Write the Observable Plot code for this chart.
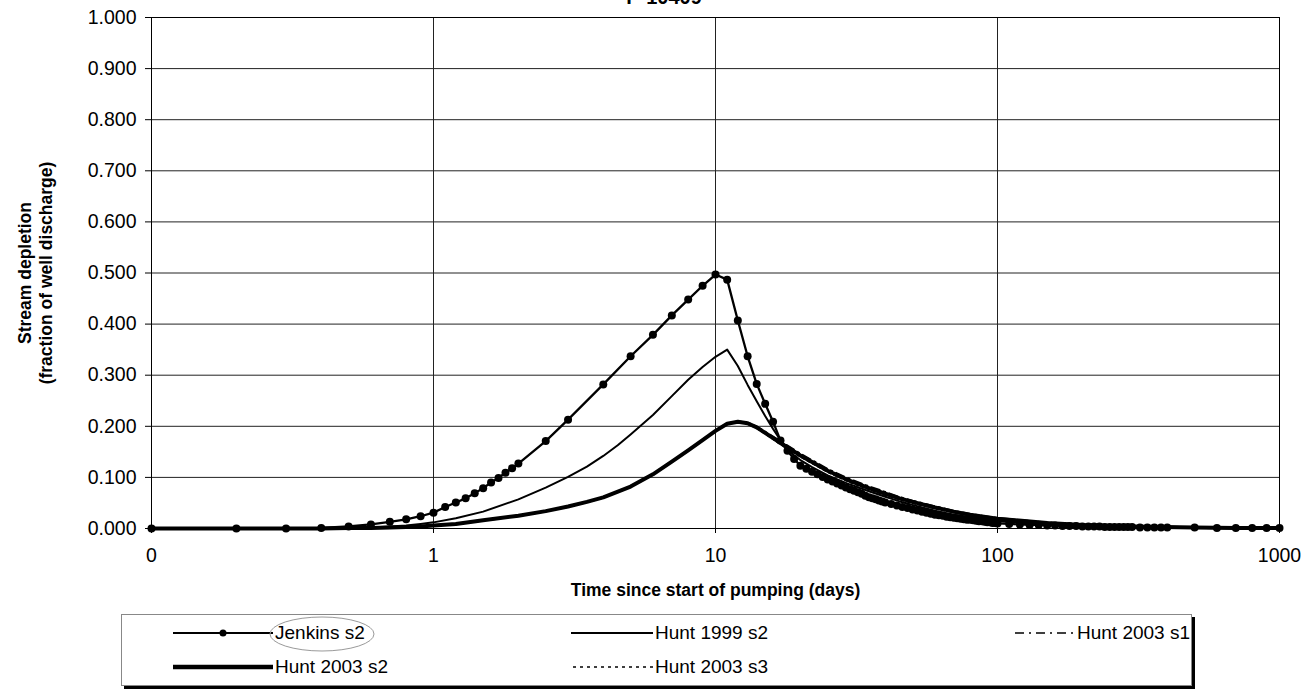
<!DOCTYPE html>
<html>
<head>
<meta charset="utf-8">
<script src="https://cdn.jsdelivr.net/npm/d3@7"></script>
<script src="https://cdn.jsdelivr.net/npm/@observablehq/plot@0.6"></script>
<style>
  body { margin: 0; background: #fff; font-family: "Liberation Sans", Arial, sans-serif; }
  #wrap { position: relative; width: 1308px; height: 689px; overflow: hidden; background: #fff; }
  #title { position: absolute; left: 0; width: 1328px; top: -13px; line-height: 20px; text-align: center; font-weight: bold; font-size: 20px; color: #000; }
  #chart { position: absolute; left: 0; top: 0; }
  #legend { position: absolute; left: 121px; top: 614px; width: 1069px; height: 70px; border: 1px solid #888; box-shadow: 3px 3px 0 #000; background: #fff; }
  .item { position: absolute; height: 30px; display: flex; align-items: center; font-size: 19px; color: #000; white-space: nowrap; }
  .item svg { display: block; margin-right: 2px; }
</style>
</head>
<body>
<div id="wrap">
  <div id="chart"></div>
  <div id="title">P-10409</div>
  <div id="legend"></div>
</div>
<script>
// ---------- data ----------
const titleText = "P-10409";
const xTitle = "Time since start of pumping (days)";
const yTitle = "Stream depletion\n(fraction of well discharge)";
const xTicks = [0.1, 1, 10, 100, 1000];
const xTickLabels = ["0", "1", "10", "100", "1000"];
const yTicks = [0, 0.1, 0.2, 0.3, 0.4, 0.5, 0.6, 0.7, 0.8, 0.9, 1.0];
const seriesNames = ["Jenkins s2", "Hunt 1999 s2", "Hunt 2003 s1", "Hunt 2003 s2", "Hunt 2003 s3"];

const jenkinsT = [0.1,0.2,0.3,0.4,0.5,0.6,0.7,0.8,0.9,1.0,1.1,1.2,1.3,1.4,1.5,1.6,1.7,1.8,1.9,2.0,2.5,
  3,4,5,6,7,8,9,10,11,12,13,14,15,16,17,18,19,20,21,22,23,24,25,26,27,28,29,30,31,32,33,34,35,36,37,38,39,40,
  42,44,46,48,50,52,54,56,58,60,62,64,66,68,70,72,74,76,78,80,82,84,86,88,90,92,94,96,98,100,
  110,120,130,140,150,160,170,180,190,200,210,220,230,240,250,260,270,280,290,300,320,340,360,380,
  400,500,600,700,800,900,1000];
const jenkinsV = [0.000,0.000,0.000,0.001,0.004,0.008,0.013,0.018,0.024,0.031,0.042,0.051,0.059,0.069,0.079,0.090,0.099,0.109,0.118,0.127,0.171,
  0.213,0.282,0.337,0.379,0.417,0.448,0.475,0.497,0.487,0.407,0.337,0.283,0.244,0.209,0.172,0.152,0.136,0.123,0.117,0.111,0.106,0.101,0.096,0.092,0.088,0.084,0.080,0.077,0.074,0.071,0.068,0.064,0.061,0.059,0.057,0.055,0.053,0.051,
  0.048,0.045,0.042,0.040,0.037,0.035,0.033,0.031,0.029,0.027,0.026,0.025,0.023,0.022,0.021,0.020,0.019,0.018,0.017,0.017,0.016,0.015,0.014,0.014,0.013,0.012,0.012,0.011,0.011,0.010,
  0.009,0.008,0.007,0.007,0.006,0.006,0.005,0.005,0.005,0.004,0.004,0.004,0.004,0.003,0.003,0.003,0.003,0.003,0.003,0.003,0.002,0.002,0.002,0.002,
  0.002,0.002,0.001,0.001,0.001,0.001,0.001];

const hunt99T = [0.1,0.2,0.3,0.4,0.5,0.6,0.7,0.8,0.9,1,1.2,1.5,2,2.5,3,3.5,4,4.5,5,6,7,8,9,10,11,12,13,14,15,16,17,18,19,20,22,25,30,35,40,45,50,60,70,80,100,150,200,300,500,700,1000];
const hunt99V = [0,0,0,0.001,0.001,0.002,0.004,0.006,0.009,0.012,0.020,0.033,0.057,0.080,0.101,0.121,0.142,0.163,0.184,0.222,0.259,0.291,0.316,0.336,0.350,0.318,0.281,0.249,0.220,0.195,0.173,0.156,0.143,0.134,0.120,0.104,0.086,0.073,0.062,0.053,0.046,0.035,0.027,0.022,0.014,0.008,0.005,0.003,0.002,0.001,0.001];

const hunt03T = [0.1,0.2,0.3,0.4,0.5,0.6,0.7,0.8,0.9,1,1.2,1.5,2,2.5,3,3.5,4,5,6,7,8,9,10,11,12,13,14,15,17.5,20,25,30,35,40,45,50,60,70,80,100,150,200,300,500,700,1000];
const hunt03s1V = [0,0,0,0,0.001,0.001,0.002,0.003,0.004,0.006,0.009,0.016,0.025,0.034,0.043,0.052,0.061,0.083,0.107,0.132,0.154,0.174,0.192,0.206,0.210,0.208,0.200,0.190,0.167,0.147,0.117,0.097,0.083,0.072,0.062,0.055,0.044,0.035,0.029,0.021,0.012,0.008,0.005,0.003,0.002,0.001];
const hunt03s2V = [0,0,0,0,0.001,0.001,0.002,0.003,0.004,0.006,0.009,0.016,0.025,0.034,0.043,0.052,0.061,0.082,0.106,0.131,0.153,0.173,0.191,0.205,0.209,0.206,0.198,0.187,0.163,0.143,0.113,0.093,0.079,0.068,0.059,0.052,0.041,0.033,0.027,0.019,0.011,0.007,0.004,0.002,0.001,0.001];
const hunt03s3V = [0,0,0,0,0.001,0.001,0.002,0.003,0.004,0.006,0.009,0.015,0.024,0.033,0.042,0.051,0.060,0.081,0.105,0.130,0.152,0.172,0.190,0.204,0.208,0.204,0.196,0.185,0.160,0.140,0.110,0.090,0.076,0.065,0.056,0.049,0.039,0.031,0.025,0.018,0.010,0.006,0.004,0.002,0.001,0.001];

// ---------- build tables ----------
const rows = (T, V) => T.map((t, i) => ({t, v: V[i]}));
const jRows = rows(jenkinsT, jenkinsV);
const h99Rows = rows(hunt99T, hunt99V);
const h03s1Rows = rows(hunt03T, hunt03s1V);
const h03s2Rows = rows(hunt03T, hunt03s2V);
const h03s3Rows = rows(hunt03T, hunt03s3V);

const chart = Plot.plot({
  width: 1308,
  height: 610,
  marginLeft: 151,
  marginRight: 29,
  marginTop: 17,
  marginBottom: 82,
  style: { fontFamily: "'Liberation Sans', Arial, sans-serif", fontSize: "19.5px", color: "#000", background: "transparent" },
  x: { type: "log", domain: [0.1, 1000] },
  y: { domain: [0, 1] },
  marks: [
    Plot.gridY(yTicks, { stroke: "#222", strokeOpacity: 1, strokeWidth: 1 }),
    Plot.gridX(xTicks, { stroke: "#222", strokeOpacity: 1, strokeWidth: 1 }),
    Plot.frame({ stroke: "#000", strokeWidth: 1 }),
    Plot.line(h03s3Rows, { x: "t", y: "v", stroke: "#000", strokeWidth: 1.5, strokeDasharray: "3,3" }),
    Plot.line(h03s1Rows, { x: "t", y: "v", stroke: "#000", strokeWidth: 1.5, strokeDasharray: "9,4,2,4" }),
    Plot.line(h03s2Rows, { x: "t", y: "v", stroke: "#000", strokeWidth: 4 }),
    Plot.line(h99Rows, { x: "t", y: "v", stroke: "#000", strokeWidth: 2 }),
    Plot.line(jRows, { x: "t", y: "v", stroke: "#000", strokeWidth: 2.3 }),
    Plot.dot(jRows, { x: "t", y: "v", r: 4, fill: "#000", stroke: "none" }),
    Plot.axisY({ ticks: yTicks, tickFormat: d3.format(".3f"), tickSize: 6, tickPadding: 9, label: null }),
    Plot.axisX({ ticks: xTicks, tickFormat: d => xTickLabels[xTicks.indexOf(d)], tickSize: 5, tickPadding: 15, label: null }),
    Plot.text([xTitle], { frameAnchor: "bottom", dy: 62, text: d => d, fontWeight: "bold", fontSize: 17.5, fill: "#000", lineAnchor: "middle" }),
    Plot.text([yTitle], { frameAnchor: "left", dx: -117, text: d => d, rotate: -90, fontWeight: "bold", fontSize: 17.5, fill: "#000", lineAnchor: "middle", textAnchor: "middle", lineHeight: 1.2 })
  ]
});
document.getElementById("chart").appendChild(chart);
document.getElementById("title").textContent = titleText;

// ---------- legend ----------
const swatch = (kind, w) => {
  const y = 15;
  if (kind === 0) return `<svg width="${w}" height="30"><line x1="0" y1="${y}" x2="${w}" y2="${y}" stroke="#000" stroke-width="2"/><circle cx="${w/2}" cy="${y}" r="3.5" fill="#000"/></svg>`;
  if (kind === 1) return `<svg width="${w}" height="30"><line x1="0" y1="${y}" x2="${w}" y2="${y}" stroke="#000" stroke-width="2"/></svg>`;
  if (kind === 2) return `<svg width="${w}" height="30"><line x1="2" y1="${y}" x2="${w}" y2="${y}" stroke="#000" stroke-width="1.5" stroke-dasharray="9,5,2,5"/></svg>`;
  if (kind === 3) return `<svg width="${w}" height="30"><line x1="0" y1="${y}" x2="${w}" y2="${y}" stroke="#000" stroke-width="4.5"/></svg>`;
  return `<svg width="${w}" height="30"><line x1="2" y1="${y}" x2="${w}" y2="${y}" stroke="#000" stroke-width="1.5" stroke-dasharray="3,4"/></svg>`;
};
const legendPos = [
  { left: 51, top: 3, w: 100 },
  { left: 449, top: 3, w: 82 },
  { left: 891, top: 3, w: 62 },
  { left: 51, top: 37, w: 100 },
  { left: 449, top: 37, w: 82 }
];
const legend = document.getElementById("legend");
seriesNames.forEach((name, i) => {
  const d = document.createElement("div");
  d.className = "item";
  d.style.left = legendPos[i].left + "px";
  d.style.top = legendPos[i].top + "px";
  d.innerHTML = swatch(i, legendPos[i].w) + `<span>${name}</span>`;
  legend.appendChild(d);
});
// pencil annotation around the first legend entry
const ann = document.createElementNS("http://www.w3.org/2000/svg", "svg");
ann.setAttribute("width", "1069"); ann.setAttribute("height", "70");
ann.style.position = "absolute"; ann.style.left = "0"; ann.style.top = "0"; ann.style.pointerEvents = "none";
ann.innerHTML = `<ellipse cx="200" cy="19" rx="52" ry="17" fill="none" stroke="#9a9a9a" stroke-width="1"/>`;
legend.appendChild(ann);
</script>
</body>
</html>
